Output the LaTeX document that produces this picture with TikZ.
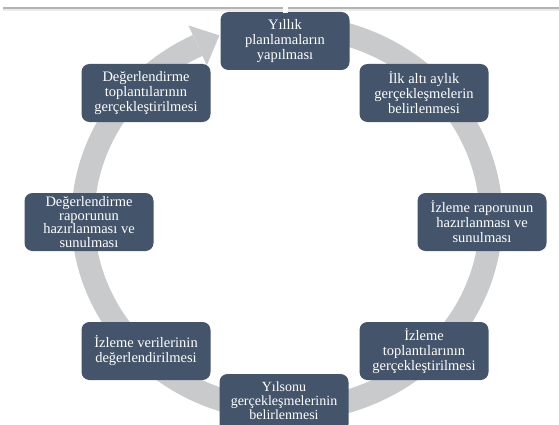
\documentclass[tikz,border=0pt]{standalone}
\usepackage{fontspec}
\setmainfont{Liberation Serif}
\definecolor{boxcol}{HTML}{44546A}
\definecolor{ringcol}{HTML}{C9CACC}
\definecolor{topline}{HTML}{B4B4B4}
\definecolor{topband}{HTML}{EBEBEB}
\tikzset{
  stepbox/.style={fill=boxcol, rounded corners=8pt, minimum width=129pt, minimum height=58pt,
    text=white, align=center, inner sep=2pt, font=\fontsize{14.5}{15}\selectfont},
  ring/.style={draw=ringcol, line width=23pt}
}
\begin{document}
\begin{tikzpicture}[x=1pt,y=1pt]
\useasboundingbox (0,0) rectangle (559,424);
\clip (0,0) rectangle (559,424);
% top rule
\fill[topband] (3,413) rectangle (559,415.5);
\draw[topline, line width=1.2pt] (3,416) -- (559,416);
% ring
\draw[ring] (287,206) ++(78:204 and 192) arc[start angle=78, end angle=-244, x radius=204, y radius=192];
\fill[ringcol] (188.4,398.6) -- (219.4,388.6) -- (206.8,358.6) -- cycle;
% boxes
\node[stepbox] (n1) at (285,383) {Yıllık\\planlamaların\\yapılması};
\node[stepbox] (n2) at (424,331) {İlk altı aylık\\gerçekleşmelerin\\belirlenmesi};
\node[stepbox] (n3) at (482,202) {İzleme raporunun\\hazırlanması ve\\sunulması};
\node[stepbox] (n4) at (424,73) {İzleme\\toplantılarının\\gerçekleştirilmesi};
\fill[boxcol, rounded corners=8pt] (219.5,-8) rectangle (348.5,50);
\node[text=white, align=center, inner sep=1pt, font=\fontsize{14}{13.8}\selectfont] (n5) at (284,23) {Yılsonu\\gerçekleşmelerinin\\belirlenmesi};
\node[stepbox] (n6) at (146,73) {İzleme verilerinin\\değerlendirilmesi};
\node[stepbox, font=\fontsize{14.5}{13.6}\selectfont] (n7) at (89,202) {Değerlendirme\\raporunun\\hazırlanması ve\\sunulması};
\node[stepbox] (n8) at (146,331) {Değerlendirme\\toplantılarının\\gerçekleştirilmesi};
% small notch above top box
\fill[white] (283,411) rectangle (288,418);
\end{tikzpicture}
\end{document}
